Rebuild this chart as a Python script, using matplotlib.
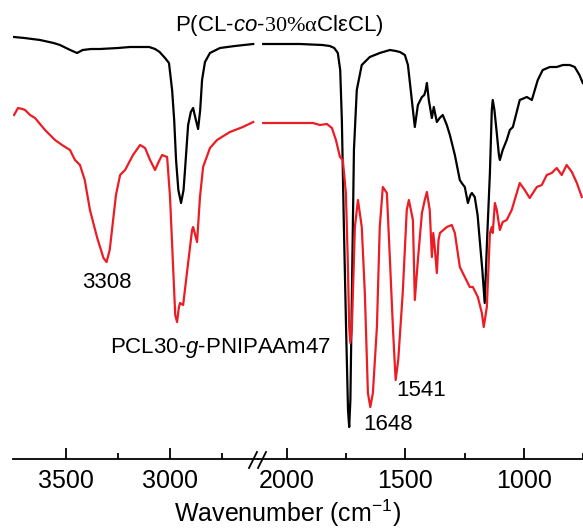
#!/usr/bin/env python3
# -*- coding: utf-8 -*-
"""FTIR spectra of P(CL-co-30%aCleCL) and PCL30-g-PNIPAAm47 on a broken wavenumber axis."""
import matplotlib
matplotlib.use("Agg")
import matplotlib.pyplot as plt
from matplotlib.lines import Line2D

plt.rcParams["font.family"] = ["Liberation Sans", "DejaVu Sans"]
plt.rcParams["mathtext.fontset"] = "custom"
plt.rcParams["mathtext.rm"] = "Liberation Sans"
plt.rcParams["mathtext.it"] = "Liberation Sans:italic"
plt.rcParams["mathtext.sf"] = "Liberation Serif"

# y values are band depth (0 = top, larger = stronger absorption)
black_hi_x = [3750, 3700, 3625, 3560, 3529, 3480, 3447, 3420, 3380, 3337, 3250, 3192, 3100,
              3072, 3050, 3024, 3005, 2990, 2980, 2971, 2960, 2947, 2935, 2928, 2913, 2900,
              2889, 2878, 2865, 2855, 2846, 2832, 2808, 2760, 2688, 2600]
black_hi_y = [37, 38, 40, 43, 45, 50, 53, 50, 49, 49, 48, 47, 47,
              49, 52, 58, 63, 90, 120, 160, 190, 203, 190, 170, 125, 112,
              108, 118, 129, 110, 80, 62, 53, 48, 46, 44]

black_lo_x = [2100, 2030, 1945, 1850, 1819, 1800, 1785, 1775, 1768, 1760, 1750, 1742, 1737,
              1732, 1726, 1717, 1705, 1684, 1650, 1608, 1565, 1540, 1523, 1502, 1489, 1475,
              1468, 1460, 1447, 1430, 1420, 1414, 1409, 1401, 1388, 1380, 1367, 1355, 1342,
              1325, 1312, 1291, 1270, 1262, 1249, 1236, 1225, 1219, 1207, 1195, 1186, 1175,
              1165, 1155, 1143, 1135, 1131, 1124, 1114, 1105, 1101, 1089, 1072, 1059, 1046,
              1017, 987, 966, 941, 920, 890, 861, 835, 806, 785, 765, 751]
black_lo_y = [44, 44, 44, 45, 46, 48, 53, 70, 120, 220, 330, 410, 427,
              400, 300, 150, 90, 65, 57, 53, 50, 51, 52, 55, 65, 95,
              110, 127, 105, 97, 95, 90, 83, 100, 118, 107, 122, 118, 115,
              125, 135, 155, 180, 183, 187, 203, 195, 193, 197, 215, 240, 270,
              303, 240, 173, 110, 100, 110, 133, 155, 160, 150, 140, 130, 127,
              100, 97, 100, 80, 70, 67, 67, 65, 65, 67, 75, 83]

red_hi_x = [3750, 3731, 3710, 3697, 3673, 3649, 3601, 3553, 3519, 3481, 3457, 3433, 3410,
            3385, 3350, 3320, 3305, 3290, 3279, 3260, 3240, 3216, 3178, 3144, 3120, 3096,
            3072, 3055, 3038, 3014, 3000, 2986, 2975, 2966, 2958, 2952, 2937, 2913, 2894,
            2889, 2870, 2856, 2841, 2808, 2774, 2712, 2650, 2600]
red_hi_y = [115, 108, 109, 110, 115, 118, 130, 140, 145, 150, 160, 165, 180,
            210, 238, 258, 262, 250, 230, 195, 175, 170, 155, 145, 148, 160,
            170, 162, 155, 157, 197, 263, 315, 322, 308, 303, 305, 263, 230,
            227, 242, 197, 167, 148, 140, 132, 127, 122]

red_lo_x = [2100, 2030, 1890, 1861, 1831, 1810, 1793, 1776, 1764, 1751, 1743, 1737, 1732,
            1726, 1713, 1700, 1684, 1671, 1658, 1648, 1637, 1620, 1608, 1595, 1578, 1565,
            1552, 1541, 1530, 1511, 1494, 1485, 1468, 1460, 1447, 1430, 1418, 1409, 1397,
            1388, 1382, 1376, 1367, 1360, 1354, 1325, 1304, 1291, 1270, 1249, 1228, 1215,
            1194, 1177, 1169, 1156, 1143, 1135, 1131, 1122, 1114, 1101, 1089, 1072, 1051,
            1017, 996, 975, 945, 924, 903, 882, 861, 840, 819, 797, 776, 755]
red_lo_y = [123, 123, 123, 125, 124, 128, 140, 157, 160, 193, 260, 327, 343,
            330, 227, 200, 227, 293, 393, 407, 393, 327, 227, 187, 193, 260,
            330, 380, 360, 293, 210, 200, 220, 300, 260, 213, 200, 192, 210,
            257, 233, 247, 273, 240, 233, 227, 225, 233, 267, 277, 287, 287,
            297, 313, 327, 307, 233, 227, 233, 203, 210, 230, 222, 220, 210,
            183, 190, 198, 187, 185, 175, 173, 168, 175, 165, 172, 183, 197]

W, H = 583, 530
fig = plt.figure(figsize=(W / 100, H / 100), dpi=100)

bottom = 71 / H
height = 459 / H
ax1 = fig.add_axes([13 / W, bottom, 245 / W, height])
ax2 = fig.add_axes([258 / W, bottom, 325 / W, height])

line_kw = dict(lw=1.6, solid_joinstyle="round")
ax1.plot(black_hi_x, black_hi_y, color="black", **line_kw)
ax1.plot(red_hi_x, red_hi_y, color="#ec1c24", **line_kw)
ax2.plot(black_lo_x, black_lo_y, color="black", **line_kw)
ax2.plot(red_lo_x, red_lo_y, color="#ec1c24", **line_kw)

ax1.set_xlim(3755, 2577)
ax2.set_xlim(2122, 750)

for ax in (ax1, ax2):
    ax.set_ylim(459, 0)
    ax.set_yticks([])
    for side in ("top", "left", "right"):
        ax.spines[side].set_visible(False)
    ax.spines["bottom"].set_linewidth(1.3)
    ax.tick_params(axis="x", which="major", direction="in", length=8, width=1.3,
                   labelsize=18, pad=7)
    ax.tick_params(axis="x", which="minor", direction="in", length=4, width=1.3)
    ax.patch.set_visible(False)

ax1.set_xticks([3500, 3000])
ax1.set_xticks([3250, 2750], minor=True)
ax2.set_xticks([2000, 1500, 1000])
ax2.set_xticks([1750, 1250, 750], minor=True)

# break marks on the axis
y0 = 1 - 468 / H
y1 = 1 - 452 / H
for xa, xb in ((249, 257), (258, 266)):
    fig.add_artist(Line2D([xa / W, xb / W], [y0, y1], color="black", lw=1.3))

fig.text(288 / W, 1 - 513 / H, "Wavenumber (cm$^{-1}$)", ha="center", va="center", fontsize=18)

fig.text(279 / W, 1 - 26 / H, "P(CL-$\\mathit{co}$-$\\mathsf{30\\%\\alpha}$ClεCL)",
         ha="center", va="center", fontsize=16)
fig.text(220 / W, 1 - 348 / H, "PCL30-$\\mathit{g}$-PNIPAAm47", ha="center", va="center",
         fontsize=16)
ax1.text(3303, 282, "3308", ha="center", va="center", fontsize=16)
ax2.text(1574, 425, "1648", ha="center", va="center", fontsize=16)
ax2.text(1435, 390, "1541", ha="center", va="center", fontsize=16)

fig.savefig("out.png", dpi=100)
